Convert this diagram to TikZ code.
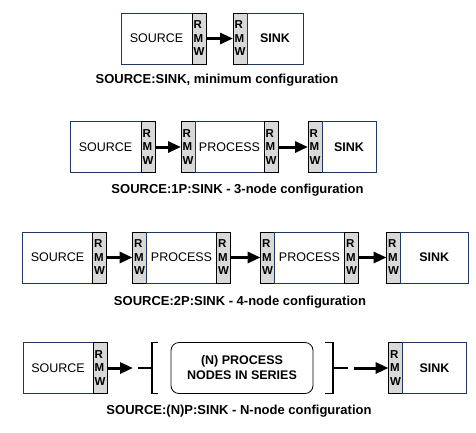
\documentclass[tikz,border=0pt]{standalone}
\usepackage{fontspec}
\setmainfont{Liberation Sans}
\usetikzlibrary{arrows.meta,positioning}
\definecolor{boxblue}{HTML}{1F3864}
\definecolor{rmwgray}{HTML}{D9D9D9}
\tikzset{%
	block/.style    = {draw=boxblue, line width=1pt, rectangle, minimum height=51pt, inner sep=0pt, outer sep=0pt, font=\fontsize{12.5}{14}\selectfont},
	sinkblock/.style = {block, font=\fontsize{12.5}{14}\selectfont\bfseries},
	rmw/.style      = {draw=black, fill=rmwgray, line width=0.8pt, rectangle, minimum height=51pt, minimum width=14pt, text width=11pt, inner xsep=1.5pt, inner ysep=0pt, outer sep=0pt, align=left, font=\fontsize{11.5}{13.5}\selectfont\bfseries}, % R/M/W strip
	series/.style   = {draw, line width=0.8pt, rectangle, rounded corners=8pt, minimum width=142pt, minimum height=51pt, outer sep=0pt, align=center, font=\fontsize{12.5}{15}\selectfont\bfseries},
	caption/.style  = {font=\fontsize{13}{15}\selectfont\bfseries},
	arrow/.style    = {line width=3pt, -{Triangle[length=13pt,width=11pt]}},
	bracket/.style  = {line width=1.4pt},
}
\begin{document}
\begin{tikzpicture}[x=1pt,y=-1pt]
	\useasboundingbox (0,0) rectangle (476,432);
	% minimum configuration
	\node[block,minimum width=71pt] (src1) at (156.5,38.5) {SOURCE};
	\node[rmw,right=0pt of src1] (src1rmw) {R\\M\\W};
	\node[rmw,right=27pt of src1rmw] (snk1rmw) {R\\M\\W};
	\node[sinkblock,right=0pt of snk1rmw,minimum width=56pt] (snk1) {SINK};
	\draw[arrow] (src1rmw) -- (snk1rmw);
	\node[caption] (cap1) at (217,80) {SOURCE:SINK, minimum configuration};
	% 3-node configuration
	\node[block,minimum width=71pt] (src2) at (105.5,147) {SOURCE};
	\node[rmw,right=0pt of src2] (src2rmw) {R\\M\\W};
	\node[rmw,right=26pt of src2rmw] (p2in) {R\\M\\W};
	\node[block,right=0pt of p2in,minimum width=69pt] (p2) {PROCESS};
	\node[rmw,right=0pt of p2] (p2out) {R\\M\\W};
	\node[rmw,right=30pt of p2out] (snk2rmw) {R\\M\\W};
	\node[sinkblock,right=0pt of snk2rmw,minimum width=54pt] (snk2) {SINK};
	\draw[arrow] (src2rmw) -- (p2in);
	\draw[arrow] (p2out) -- (snk2rmw);
	\node[caption] (cap2) at (237.5,190) {SOURCE:1P:SINK - 3-node configuration};
	% 4-node configuration
	\node[block,minimum width=70pt] (src3) at (57.5,257.5) {SOURCE};
	\node[rmw,right=0pt of src3] (src3rmw) {R\\M\\W};
	\node[rmw,right=26pt of src3rmw] (p31in) {R\\M\\W};
	\node[block,right=0pt of p31in,minimum width=70pt] (p31) {PROCESS};
	\node[rmw,right=0pt of p31] (p31out) {R\\M\\W};
	\node[rmw,right=30pt of p31out] (p32in) {R\\M\\W};
	\node[block,right=0pt of p32in,minimum width=70pt] (p32) {PROCESS};
	\node[rmw,right=0pt of p32] (p32out) {R\\M\\W};
	\node[rmw,right=28pt of p32out] (snk3rmw) {R\\M\\W};
	\node[sinkblock,right=0pt of snk3rmw,minimum width=67.5pt] (snk3) {SINK};
	\draw[arrow] (src3rmw) -- (p31in);
	\draw[arrow] (p31out) -- (p32in);
	\draw[arrow] (p32out) -- (snk3rmw);
	\node[caption] (cap3) at (240,302.5) {SOURCE:2P:SINK - 4-node configuration};
	% N-node configuration
	\node[block,minimum width=70pt] (src4) at (58,368) {SOURCE};
	\node[rmw,right=0pt of src4] (src4rmw) {R\\M\\W};
	\coordinate[right=26pt of src4rmw] (lbin);
	\coordinate[right=5pt of lbin] (lbt);
	\coordinate[right=14pt of lbt] (lb);
	\node[series,right=19pt of lb] (pn) {(N) PROCESS\\NODES IN SERIES};
	\coordinate[right=20pt of pn] (rb);
	\coordinate[right=15pt of rb] (rbt);
	\coordinate[right=5.5pt of rbt] (rbout);
	\node[rmw,right=35pt of rbout] (snk4rmw) {R\\M\\W};
	\node[sinkblock,right=0pt of snk4rmw,minimum width=64pt] (snk4) {SINK};
	\draw[arrow] (src4rmw) -- (lbin);
	\draw[bracket] (lbt) -- (lb);
	\draw[bracket] ([xshift=6pt]lb |- pn.north) -- (lb |- pn.north) -- (lb |- pn.south) -- ([xshift=6pt]lb |- pn.south);
	\draw[bracket] ([xshift=-8pt]rb |- pn.north) -- (rb |- pn.north) -- (rb |- pn.south) -- ([xshift=-8pt]rb |- pn.south);
	\draw[bracket] (rb) -- (rbt);
	\draw[arrow] (rbout) -- (snk4rmw);
	\node[caption] (cap4) at (239,411.5) {SOURCE:(N)P:SINK - N-node configuration};
\end{tikzpicture}
\end{document}
